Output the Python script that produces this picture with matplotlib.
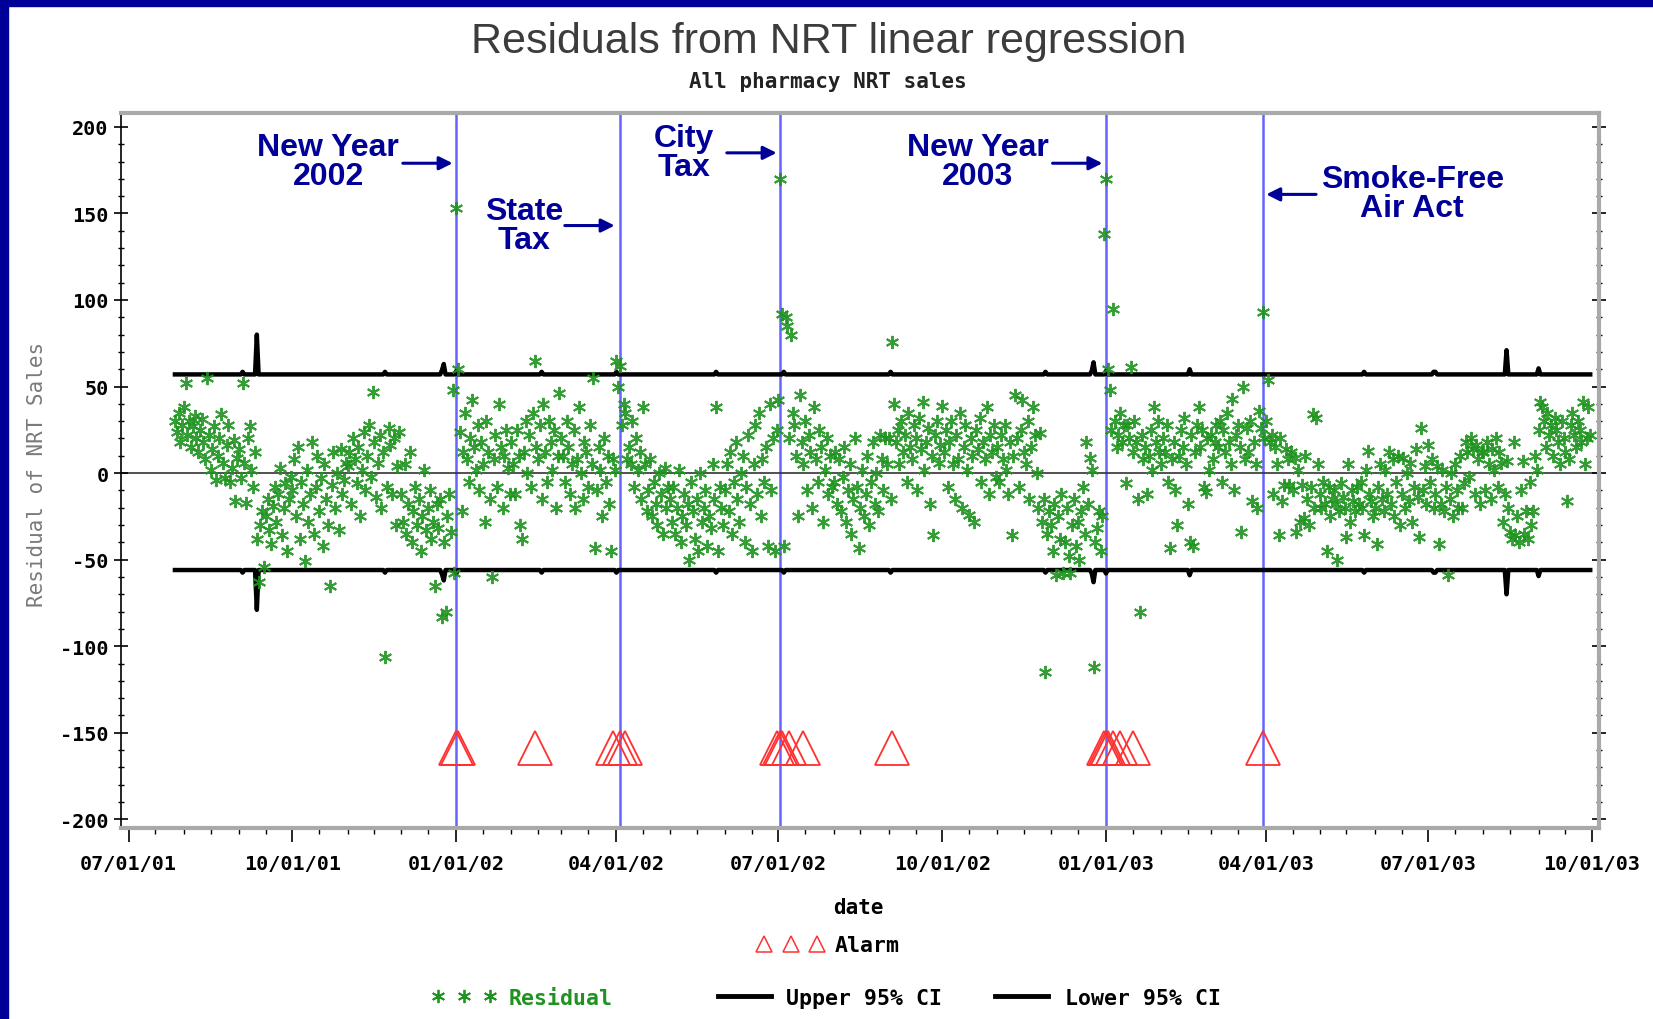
import numpy as np
import pandas as pd
import matplotlib
matplotlib.use("Agg")
import matplotlib.pyplot as plt
import matplotlib.dates as mdates
from matplotlib.lines import Line2D
from matplotlib.patches import Rectangle
from matplotlib import font_manager as fm

plt.rcParams["axes.unicode_minus"] = False

# daily residuals, one list per month (first list starts 2001-07-27)
res_2001 = [
    [30, 24, 35, 18, 28],
    [38, 52, 22, 30, 15, 27, 33, 20, 12, 25, 31, 18, 8, 55, 22, 2, 14, 27, -4, 10,
     20, 34, 6, -3, 16, 28, -5, 3, 19, -16, 9],
    [14, -3, 52, 6, -17, 20, 27, 2, -8, 12, -38, -63, -30, -22, -54, -25, -15, -33, -41, -19,
     -8, -28, -12, 3, -36, -20, -6, -45, -15, -2],
    [-10, 8, -25, 15, -38, -5, -18, -51, 2, -28, -12, 18, -35, -8, 10, -22, -3, -42, 5, -15,
     -30, -65, -7, 12, -20, 0, -33, 14, -12, -4, 6],
    [4, 12, -18, 20, 8, -6, 15, -25, 2, 24, -10, 10, 28, -2, 47, 18, -14, 6, 22, -20,
     12, -106, -8, 26, 16, -12, 20, -30, 4, 24],
    [-12, -28, 5, -35, -18, 12, -40, -22, -8, -30, -15, -45, -25, 2, -33, -20, -10, -38, -28, -65,
     -18, -32, -15, -83, -40, -80, -25, -12, -34, 48, -58],
]
res_2002 = [
    [153, 60, 24, -22, 12, 35, 8, -5, 20, 42, 15, 2, 28, -10, 18, 5, -28, 30, 12, -15,
     -60, 8, 22, -8, 40, 15, -20, 10, 25, 3, -12],
    [18, 5, -12, 25, 10, -30, -38, 12, 30, 0, 22, -8, 35, 65, 15, 8, 28, -15, 40, 12,
     -5, 30, 18, 2, 25, -20, 10, 46],
    [20, 10, -5, 30, 15, -12, 5, 25, -20, 8, 38, 0, -15, 18, 12, -8, 28, 5, 55, -43,
     -10, 15, 2, -25, 20, -5, 10, -18, -45, 8, 2],
    [65, 50, 62, 28, 40, 35, 8, 15, 5, 30, -8, 20, 2, 12, -15, 38, 5, -22, -10, 8,
     -25, -5, -18, -30, 0, -12, -35, 3, -20, -8],
    [-15, -28, -8, -35, -20, 2, -40, -25, -12, -30, -18, -50, -5, -22, -38, -15, -45, 0, -28, -20,
     -10, -42, -25, -32, 5, -15, 38, -45, -8, -20, -30],
    [-10, 5, -22, 12, -35, -5, 18, -15, -28, 0, 10, -40, -8, 22, -18, -45, 5, 28, -12, 35,
     -25, 8, -5, 15, -42, 40, -10, 20, -45, 25],
    [42, 170, 92, -42, 90, 85, 20, 80, 35, 28, 10, -25, 45, 18, 5, 30, -10, 22, 12, -20,
     38, 8, -5, 25, 15, -28, 2, 20, -12, 10, -8],
    [-5, 12, -18, 8, -22, -2, 15, -28, -10, 5, -35, -15, 20, -8, -43, -20, 2, -25, -12, 10,
     -30, -5, 18, -18, 0, -22, 22, 8, -10, 20, 5],
    [20, -15, 76, 40, 18, 25, 5, 30, 12, 22, -5, 35, 15, 8, 28, 20, -10, 32, 14, 41,
     2, 18, 26, -18, 10, -36, 22, 30, 6, 16],
    [39, 12, 25, -8, 18, 30, 5, -15, 22, 8, 35, -20, 15, 28, 2, -24, 20, 10, -28, 25,
     14, 32, -5, 18, 8, 38, -12, 22, 12, 28, -2],
    [15, -5, 22, 8, 28, 2, -12, 18, -36, 10, 45, 20, -8, 25, 42, 12, 5, 30, -15, 15,
     38, 22, 0, -20, 23, -28, -15, -115, -35, -22],
    [-30, -45, -18, -59, -25, -38, -12, -58, -40, -20, -48, -58, -30, -15, -42, -28, -50, -22, -8, -35,
     18, -18, 9, 2, -112, -40, -32, -22, -45, -25, 138],
]
res_2003 = [
    [170, 60, 48, 25, 95, 30, 15, 22, 35, 18, 28, -6, 28, 20, 61, 12, 30, 18, -15, -80,
     22, 8, 15, -12, 10, 25, 2, 38, 18, 30, 12],
    [5, 20, 12, 28, -5, -43, 8, 18, -10, -30, 10, 25, 15, 32, 5, -18, -40, 22, -42, 12,
     28, 38, 15, 25, -8, -11, 20, 2],
    [22, 8, 18, 28, 15, 30, -5, 25, 12, 35, 18, 5, 43, -10, 22, 28, 15, -34, 50, 8,
     26, 12, 30, -16, 18, 5, -20, 36, 26, 93, 20],
    [30, 54, 18, 22, -12, 15, 5, -36, 20, -16, -7, 14, 8, -7, 12, -10, 9, -34, 2, -28,
     -7, -26, 10, -15, -30, -8, 34, -20, 32, 5],
    [-12, -20, -5, -18, -45, -8, -25, -15, -10, -18, -50, -22, -6, -14, -20, -37, 5, -28, -10, -16,
     -22, -8, -18, -5, -20, -36, 2, 13, -12, -16, -25],
    [-20, -41, -8, 5, -15, -22, 2, -12, 12, -18, 8, -25, -5, 10, -30, -12, 9, -20, 0, -16,
     6, -28, -8, 14, -14, -37, 26, -10, 4, -18],
    [16, -5, 8, -20, -12, 4, -41, -18, 2, -22, -8, -59, -15, 0, -25, 5, -10, -20, 10, -20,
     -6, 18, 12, -2, 20, 14, -12, 16, 8, -18, 12],
    [12, -10, 18, 5, -15, 14, 2, 20, -8, 12, 6, -28, -12, 7, -20, -34, -38, 18, -36, -25,
     -40, -10, 7, -35, -22, -38, -5, -30, -22, 10, 2],
    [25, 41, 38, 30, 15, 35, 22, 28, 10, 32, 25, 18, 5, 30, 20, 12, -16, 8, 28, 35,
     22, 15, 30, 25, 18, 41, 5, 20, 38, 22],
]

# 95% CI band: flat level plus holiday bumps
ci_start, ci_end = "2001-07-27", "2003-09-30"
ci_upper_base = 57.0
ci_lower_base = -56.0
ci_bump_dates = ["2001-09-03", "2001-09-11", "2001-11-22", "2001-12-24", "2001-12-25",
                 "2002-01-01", "2002-02-18", "2002-04-01", "2002-05-27", "2002-07-04",
                 "2002-09-02", "2002-11-28", "2002-12-24", "2002-12-25", "2003-01-01",
                 "2003-02-17", "2003-05-26", "2003-07-04", "2003-07-05", "2003-08-14",
                 "2003-09-01"]
ci_bump_sizes = [1.5, 23, 1.5, 2.5, 6, 2, 1.5, 1.5, 1.5, 1.5, 1.5, 1.5, 2, 7, 2,
                 3, 1.5, 1.5, 1.5, 14, 3.5]

alarm_dates = ["2002-01-01", "2002-01-02", "2002-02-14", "2002-03-30", "2002-04-03",
               "2002-04-06", "2002-06-30", "2002-07-02", "2002-07-03", "2002-07-07",
               "2002-07-15", "2002-09-03", "2002-12-31", "2003-01-01", "2003-01-02",
               "2003-01-05", "2003-01-09", "2003-01-16", "2003-03-30"]
alarm_level = -159

event_dates = ["2002-01-01", "2002-04-03", "2002-07-02", "2003-01-01", "2003-03-30"]

GREEN = "#1f931f"
NAVY = "#000099"
RED = "#ff3030"
BLUE = "#6464ff"


def pick_font(names):
    for n in names:
        try:
            fm.findfont(fm.FontProperties(family=n), fallback_to_default=False)
            return n
        except Exception:
            pass
    return "DejaVu Sans"


narrow = pick_font(["Liberation Sans Narrow", "Arial Narrow"])
if narrow == "DejaVu Sans":
    title_font, title_size = "Liberation Sans", 31
else:
    title_font, title_size = narrow, 35

mono = "DejaVu Sans Mono"

# build series
month_first = [pd.Timestamp("2001-07-27")] + list(pd.date_range("2001-08-01", periods=26, freq="MS"))
all_months = res_2001 + res_2002 + res_2003
res_dates, res_vals = [], []
for start, vals in zip(month_first, all_months):
    res_dates.extend(pd.date_range(start, periods=len(vals), freq="D"))
    res_vals.extend(vals)

ci_days = pd.date_range(ci_start, ci_end, freq="D")
upper = np.full(len(ci_days), ci_upper_base)
lower = np.full(len(ci_days), ci_lower_base)
for d, b in zip(ci_bump_dates, ci_bump_sizes):
    i = ci_days.get_loc(pd.Timestamp(d))
    upper[i] += b
    lower[i] -= b

fig = plt.figure(figsize=(16.53, 10.20), dpi=100)
fig.patch.set_facecolor("white")
fig.patches.append(Rectangle((0, 1 - 7 / 1020), 1, 7 / 1020, transform=fig.transFigure,
                             color=NAVY, zorder=0))
fig.patches.append(Rectangle((0, 0), 8 / 1653, 1, transform=fig.transFigure,
                             color=NAVY, zorder=0))

ax = fig.add_axes([0.0732, 0.1873, 0.8941, 0.7009])

for d in event_dates:
    ax.axvline(pd.Timestamp(d), color=BLUE, lw=1.8, zorder=1)
ax.axhline(0, color="#333333", lw=1.2, zorder=1)

ax.plot(ci_days, upper, color="black", lw=3.2, zorder=2)
ax.plot(ci_days, lower, color="black", lw=3.2, zorder=2)

ax.plot(res_dates, res_vals, ls="none", marker=(6, 2, 0), ms=9.5, mew=1.4,
        color=GREEN, alpha=0.9, zorder=3)

ax.plot(pd.to_datetime(alarm_dates), [alarm_level] * len(alarm_dates), ls="none",
        marker="^", ms=25, mfc="none", mec=RED, mew=1.3, zorder=4)

# event annotations
ann_font = dict(family="Liberation Sans", weight="bold", size=23, color=NAVY)
notes = [
    ("New Year\n2002", "2001-10-21", 180, "2001-12-02", "2001-12-30", 179),
    ("State\nTax", "2002-02-08", 143, "2002-03-03", "2002-03-31", 143),
    ("City\nTax", "2002-05-09", 185, "2002-06-02", "2002-06-30", 185),
    ("New Year\n2003", "2002-10-21", 180, "2002-12-02", "2002-12-30", 179),
    ("Smoke-Free\nAir Act", "2003-06-22", 161.5, "2003-04-29", "2003-04-01", 161),
]
for txt, tx, ty, a0, a1, ay in notes:
    ax.text(pd.Timestamp(tx), ty, txt, ha="center", va="center", ma="center",
            linespacing=0.95, **ann_font)
    ax.annotate("", xy=(pd.Timestamp(a1), ay), xytext=(pd.Timestamp(a0), ay),
                arrowprops=dict(arrowstyle="-|>", color=NAVY, lw=2.2, mutation_scale=20,
                                shrinkA=0, shrinkB=0))

# axes
x0 = mdates.date2num(pd.Timestamp("2001-07-01")) - 4.3
x1 = mdates.date2num(pd.Timestamp("2003-10-01")) + 3.9
ax.set_xlim(x0, x1)
ax.set_ylim(-205, 208)
ax.set_yticks(np.arange(-200, 201, 50))
ax.set_yticks(np.arange(-200, 201, 10), minor=True)
ax.xaxis.set_major_locator(mdates.MonthLocator(bymonth=[1, 4, 7, 10]))
ax.xaxis.set_minor_locator(mdates.DayLocator(bymonthday=[1, 16]))
ax.xaxis.set_major_formatter(mdates.DateFormatter("%m/%d/%y"))

tick_font = dict(family=mono, weight="bold", size=15)
for lab in ax.get_xticklabels() + ax.get_yticklabels():
    lab.set_fontfamily(mono)
    lab.set_fontweight("bold")
    lab.set_fontsize(14.5)

ax.tick_params(axis="x", which="major", direction="out", length=10, width=1.2, pad=9)
ax.tick_params(axis="x", which="minor", direction="out", length=4, width=1.0)
ax.tick_params(axis="y", which="major", direction="inout", length=10, width=1.2, pad=4,
               right=True)
ax.tick_params(axis="y", which="minor", direction="inout", length=5, width=1.0, right=True)

for s in ["top", "right", "bottom"]:
    ax.spines[s].set_color("#a9a9a9")
    ax.spines[s].set_linewidth(3)
ax.spines["left"].set_color("black")
ax.spines["left"].set_linewidth(1.2)

# titles and labels
fig.text(0.5016, 0.959, "Residuals from NRT linear regression", ha="center", va="center",
         family=title_font, size=title_size, color="#3c3c3c")
fig.text(0.5007, 0.9196, "All pharmacy NRT sales", ha="center", va="center",
         family=mono, weight="bold", size=15, color="#222222")
fig.text(0.519, 0.1098, "date", ha="center", va="center", **tick_font)
fig.text(0.0224, 0.535, "Residual of NRT Sales", ha="center", va="center", rotation=90,
         family=mono, size=15, color="#7a7a7a")

# legends
leg_font = dict(family=mono, weight="bold", size=15.5)
h_alarm = Line2D([], [], ls="none", marker="^", ms=11, mfc="none", mec=RED, mew=1.1)
h_res = Line2D([], [], ls="none", marker=(6, 2, 0), ms=9.5, mew=1.3, color=GREEN)
h_ci = Line2D([], [], color="black", lw=3.5)

legend_specs = [
    (h_alarm, "Alarm", 0.4585, 0.0725, 0.53, "black"),
    (h_res, "Residual", 0.2608, 0.0206, 0.53, GREEN),
    (h_ci, "Upper 95% CI", 0.4305, 0.0206, 0.39, "black"),
    (h_ci, "Lower 95% CI", 0.5982, 0.0206, 0.49, "black"),
]
for h, lab, lx, ly, pad, col in legend_specs:
    lg = fig.legend(handles=[h], labels=[lab], loc="center left", bbox_to_anchor=(lx, ly),
                    frameon=False, numpoints=3, handlelength=3.05, handletextpad=pad,
                    borderpad=0, borderaxespad=0, prop=leg_font)
    for t in lg.get_texts():
        t.set_color(col)

fig.savefig("out.png", dpi=100, facecolor="white")
